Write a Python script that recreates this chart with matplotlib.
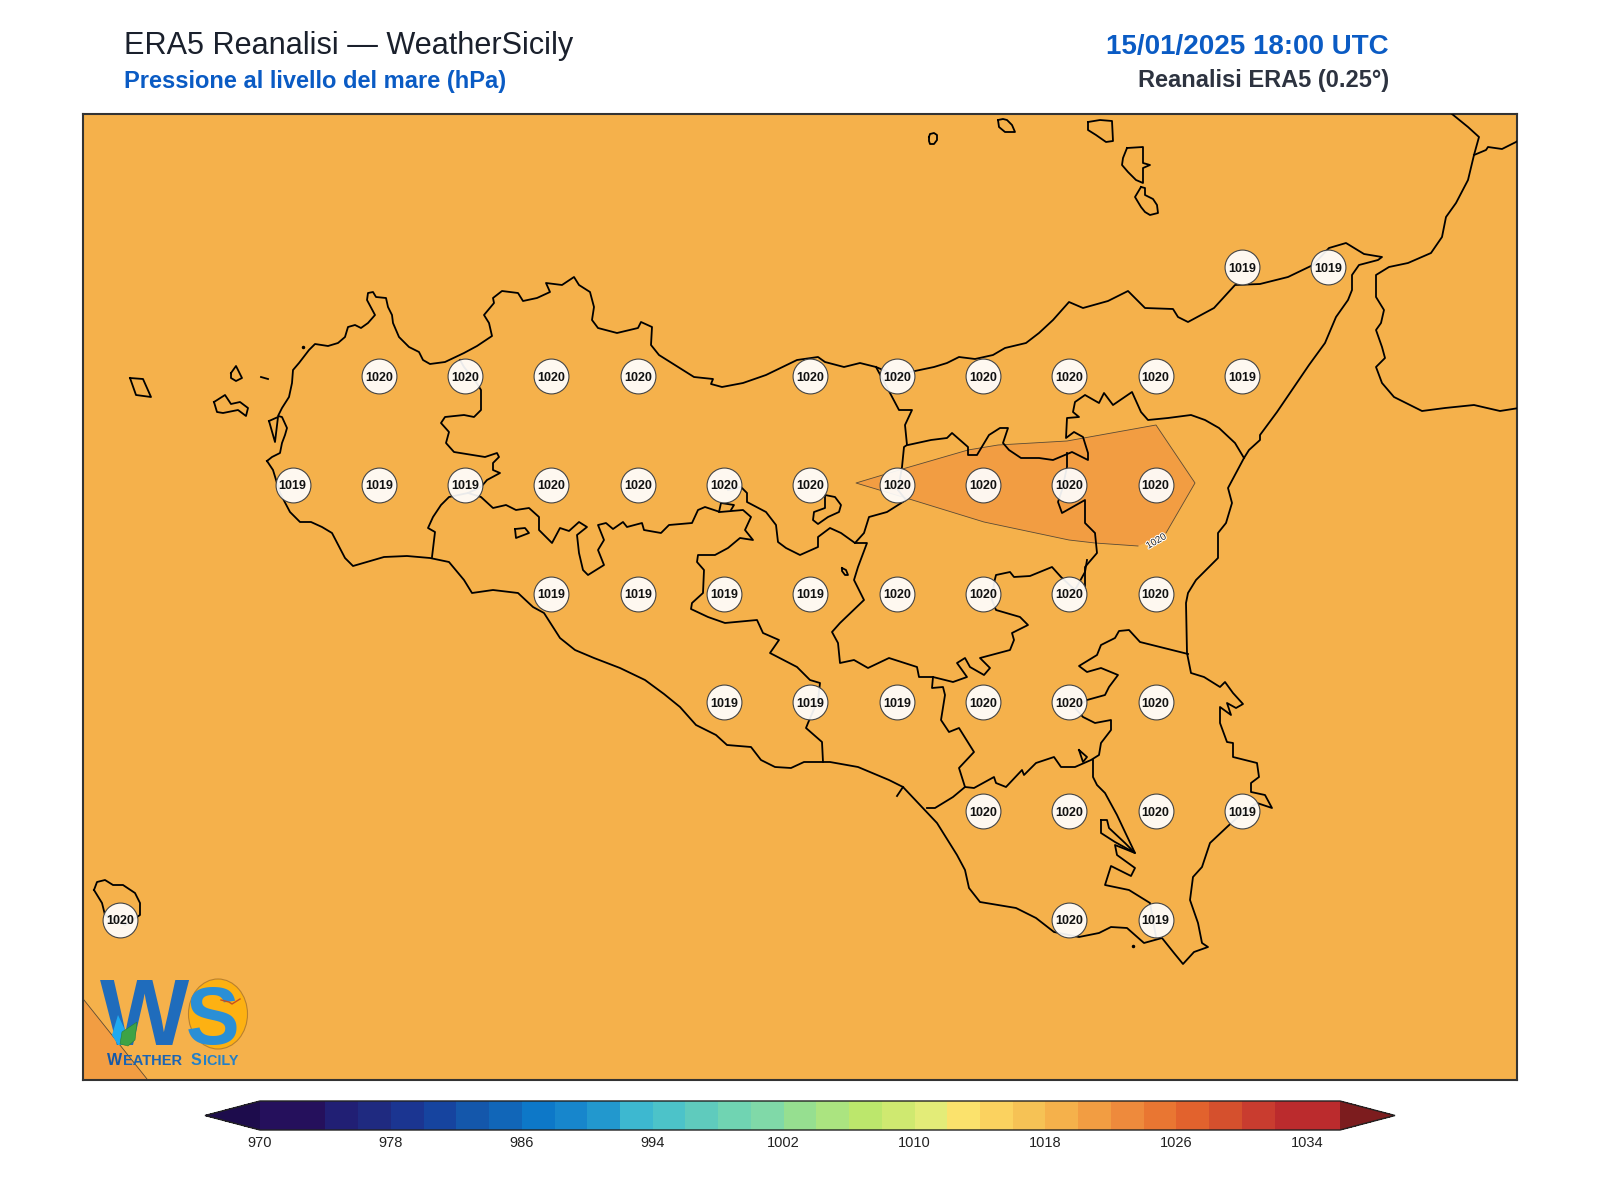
"""Mappa pressione ERA5 sulla Sicilia, WeatherSicily."""

import numpy as np
import matplotlib
matplotlib.use('Agg')
import matplotlib.pyplot as plt
from matplotlib.cm import ScalarMappable
from matplotlib.colors import BoundaryNorm, ListedColormap
from matplotlib.patches import Ellipse, Polygon
import matplotlib.patheffects as pe

plt.rcParams['font.family'] = ['Liberation Sans', 'DejaVu Sans']

LAT_38_25 = [15.25, 15.5]
VAL_38_25 = [1019, 1019]
LAT_38_00 = [12.75, 13.0, 13.25, 13.5, 14.0, 14.25, 14.5, 14.75, 15.0, 15.25]
VAL_38_00 = [1020, 1020, 1020, 1020, 1020, 1020, 1020, 1020, 1020, 1019]
LAT_37_75 = [12.5, 12.75, 13.0, 13.25, 13.5, 13.75, 14.0, 14.25, 14.5, 14.75, 15.0]
VAL_37_75 = [1019, 1019, 1019, 1020, 1020, 1020, 1020, 1020, 1020, 1020, 1020]
LAT_37_50 = [13.25, 13.5, 13.75, 14.0, 14.25, 14.5, 14.75, 15.0]
VAL_37_50 = [1019, 1019, 1019, 1019, 1020, 1020, 1020, 1020]
LAT_37_25 = [13.75, 14.0, 14.25, 14.5, 14.75, 15.0]
VAL_37_25 = [1019, 1019, 1019, 1020, 1020, 1020]
LAT_37_00 = [14.5, 14.75, 15.0, 15.25]
VAL_37_00 = [1020, 1020, 1020, 1019]
LAT_36_75 = [12.0, 14.75, 15.0]
VAL_36_75 = [1020, 1020, 1019]

ROWS = [(38.25, LAT_38_25, VAL_38_25), (38.0, LAT_38_00, VAL_38_00),
        (37.75, LAT_37_75, VAL_37_75), (37.5, LAT_37_50, VAL_37_50),
        (37.25, LAT_37_25, VAL_37_25), (37.0, LAT_37_00, VAL_37_00),
        (36.75, LAT_36_75, VAL_36_75)]

LEVELS = list(range(970, 1038, 2))
TICKS = list(range(970, 1036, 8))
BAR_COLORS = ['#25105c', '#25105c', '#211f74', '#1f2a80', '#1b3591', '#16449f',
              '#1457ab', '#1166b8', '#0d78c8', '#1786cc', '#2298ce', '#3db8d0',
              '#4cc3c9', '#5fcbbd', '#70d4b2', '#80d9a8', '#96df90', '#abe480',
              '#bce76c', '#cfe970', '#e3ec78', '#fbe26c', '#fbd25f', '#f6c255',
              '#f5b14b', '#f29d42', '#ee8a3c', '#e97632', '#e2622d', '#d5502d',
              '#c93c2f', '#bb2b2d', '#bb2b2d']

# tracciati ricalcati sulla mappa (pixel dell'immagine)
COAST = [(267, 461), (272, 457), (280, 453), (282, 443), (285, 435), (287, 428), (282, 417), (278, 416),
         (282, 408), (289, 397), (292, 383), (293, 370), (299, 363), (309, 350), (315, 344), (328, 346),
         (338, 343), (345, 337), (348, 327), (355, 325), (361, 328), (368, 323), (375, 315), (367, 300),
         (368, 293), (373, 292), (376, 297), (386, 298), (388, 307), (392, 315), (393, 323), (399, 337),
         (409, 347), (419, 352), (423, 360), (430, 364), (445, 362), (464, 353), (477, 346), (492, 336),
         (489, 323), (484, 315), (494, 303), (493, 298), (502, 291), (518, 293), (523, 301), (537, 298),
         (550, 292), (546, 283), (562, 285), (574, 277), (579, 285), (590, 292), (594, 307), (592, 320),
         (598, 328), (617, 333), (638, 328), (641, 322), (652, 327), (651, 345), (659, 355), (678, 367),
         (694, 377), (713, 379), (711, 384), (722, 387), (743, 383), (766, 375), (797, 360), (818, 357),
         (825, 362), (844, 367), (860, 363), (876, 367), (895, 375), (915, 371), (934, 367), (947, 363),
         (959, 357), (975, 359), (993, 355), (1005, 348), (1026, 343), (1039, 333), (1053, 320), (1069, 302),
         (1083, 308), (1108, 301), (1128, 291), (1145, 308), (1173, 309), (1178, 317), (1188, 322), (1214, 308),
         (1235, 285), (1260, 284), (1288, 277), (1313, 265), (1329, 248), (1346, 243), (1364, 254), (1382, 257),
         (1378, 260), (1359, 265), (1352, 275), (1352, 290), (1348, 300), (1336, 317), (1325, 343), (1309, 365),
         (1277, 412), (1260, 435), (1260, 440), (1249, 450), (1244, 458), (1228, 488), (1232, 503), (1226, 523),
         (1218, 533), (1218, 558), (1196, 580), (1188, 593), (1186, 603), (1187, 653), (1191, 673), (1204, 677),
         (1220, 687), (1225, 682), (1233, 693), (1243, 704), (1236, 708), (1227, 703), (1231, 715), (1220, 707),
         (1220, 723), (1227, 742), (1233, 743), (1233, 757), (1257, 763), (1259, 777), (1251, 783), (1251, 792),
         (1265, 795), (1272, 808), (1257, 803), (1240, 815), (1227, 827), (1210, 843), (1202, 867), (1193, 877),
         (1190, 900), (1198, 923), (1202, 943), (1208, 947), (1194, 952), (1183, 964), (1174, 953), (1162, 938),
         (1144, 943), (1127, 928), (1111, 927), (1099, 933), (1079, 937), (1054, 932), (1036, 918), (1016, 908),
         (980, 902), (969, 888), (965, 870), (957, 855), (937, 823), (903, 787), (889, 780), (858, 767),
         (830, 762), (804, 762), (791, 768), (775, 767), (761, 760), (751, 747), (727, 745), (716, 735),
         (696, 725), (680, 707), (664, 694), (645, 680), (620, 668), (594, 658), (575, 650), (560, 638),
         (544, 613), (533, 607), (518, 593), (493, 590), (472, 593), (464, 580), (449, 562), (430, 558),
         (407, 556), (384, 557), (353, 566), (345, 558), (332, 533), (322, 527), (311, 522), (300, 522),
         (290, 512), (280, 493), (273, 470), (267, 461)]
CALABRIA = [(1452, 114), (1468, 127), (1479, 137), (1474, 155), (1468, 180), (1456, 203), (1446, 217), (1442, 237),
            (1431, 253), (1408, 263), (1389, 267), (1376, 275), (1376, 297), (1384, 310), (1381, 323), (1376, 330),
            (1382, 347), (1385, 358), (1376, 367), (1382, 383), (1394, 397), (1422, 411), (1445, 408), (1474, 405),
            (1500, 411), (1519, 408)]
CALABRIA_NORD = [(1474, 155), (1486, 150), (1488, 147), (1502, 149), (1516, 142), (1519, 140)]
BORDER_TP_PA = [(460, 360), (464, 367), (476, 382), (481, 390), (481, 410), (474, 417), (464, 415), (445, 417),
                (441, 423), (449, 432), (446, 443), (454, 452), (485, 457), (497, 453), (499, 457), (493, 463),
                (493, 470), (500, 473), (487, 480), (481, 487), (468, 493), (449, 497), (441, 505), (433, 517),
                (428, 528), (435, 532), (432, 557)]
BORDER_PA_AG = [(468, 493), (481, 497), (493, 508), (506, 505), (516, 510), (529, 508), (539, 517), (539, 530),
                (552, 543), (560, 528), (569, 531), (579, 522), (587, 527), (577, 535), (579, 553), (583, 570),
                (588, 575), (604, 565), (598, 550), (604, 540), (598, 525), (606, 523), (613, 529), (623, 522),
                (627, 527), (642, 523), (644, 530), (661, 533), (669, 525), (692, 523), (698, 510), (705, 507),
                (720, 512), (743, 510), (751, 517), (745, 530), (753, 540), (740, 538), (728, 548), (715, 555),
                (698, 555), (697, 562), (704, 570), (703, 593), (692, 603), (691, 609), (708, 617), (725, 623),
                (757, 620), (763, 633), (779, 640), (770, 653), (797, 667), (810, 680), (820, 683), (818, 700),
                (808, 723), (806, 728), (822, 742), (823, 762)]
BORDER_PA_CL = [(728, 490), (741, 487), (747, 493), (747, 502), (766, 512), (776, 525), (778, 542), (786, 548),
                (800, 555), (818, 547), (818, 537), (830, 528), (841, 533), (855, 543), (864, 533), (869, 517),
                (887, 512), (906, 500), (898, 490)]
BORDER_ME_PA = [(876, 367), (890, 393), (899, 410), (912, 410), (905, 425), (907, 445), (904, 447), (902, 467),
                (898, 490)]
BORDER_CL_EN = [(855, 543), (867, 543), (858, 567), (854, 580), (864, 600), (840, 623), (832, 632), (838, 643),
                (840, 663), (854, 660), (868, 668), (889, 658), (917, 667), (919, 677), (933, 677), (953, 682),
                (967, 677), (957, 663), (965, 658), (970, 667), (984, 675), (990, 668), (980, 658), (1010, 650),
                (1014, 640), (1012, 633), (1028, 625), (1020, 617), (996, 610), (992, 600), (994, 583), (996, 575),
                (1010, 572), (1014, 577), (1030, 576), (1052, 567), (1061, 577), (1075, 590), (1085, 572), (1087, 560)]
BORDER_CL_RG = [(933, 677), (932, 688), (943, 687), (945, 695), (941, 720), (949, 732), (959, 728), (974, 752),
                (959, 768), (965, 787), (953, 797), (935, 808), (927, 808)]
BORDER_RG_CT = [(965, 787), (974, 788), (994, 777), (996, 783), (1006, 787), (1022, 770), (1024, 775), (1036, 763),
                (1054, 757), (1061, 767), (1075, 767), (1091, 760), (1099, 755), (1101, 743), (1111, 730), (1111, 720),
                (1095, 723), (1083, 717), (1075, 708), (1087, 700), (1105, 695), (1109, 687), (1118, 675), (1101, 668),
                (1087, 672), (1079, 666), (1097, 655), (1101, 645), (1115, 638), (1119, 631), (1129, 630), (1140, 642),
                (1164, 648), (1188, 654)]
BORDER_RG_SR = [(1093, 760), (1093, 777), (1097, 785), (1105, 793), (1117, 815), (1125, 832), (1135, 853), (1115, 845),
                (1117, 855), (1135, 868), (1131, 876), (1111, 866), (1105, 885), (1129, 890), (1150, 903), (1156, 937)]
BORDER_ME_CT = [(1244, 458), (1235, 443), (1219, 428), (1205, 420), (1191, 415), (1168, 418), (1148, 420), (1141, 412),
                (1132, 392), (1113, 405), (1104, 393), (1099, 403), (1085, 395), (1075, 402), (1073, 412), (1079, 417),
                (1067, 418), (1066, 438), (1074, 432), (1083, 437), (1088, 453), (1088, 460), (1072, 452), (1053, 460),
                (1039, 458), (1021, 458), (1009, 450), (1003, 443), (1008, 428), (1000, 428), (989, 435), (977, 455),
                (968, 455), (968, 447), (952, 433), (947, 438), (931, 440), (908, 445)]
BORDER_CT = [(1067, 453), (1067, 467), (1062, 490), (1058, 502), (1062, 513), (1085, 500), (1085, 523), (1095, 533),
             (1097, 553), (1085, 567), (1085, 590)]
BORDER_TICK = [(903, 787), (897, 796)]
DOTS = [(303, 347), (1133, 946)]

# isole e laghi, chiusi
ISLANDS = [
    [(929, 137), (930, 134), (934, 133), (937, 135), (937, 140), (934, 144), (930, 144), (929, 141), (929, 137)],
    [(998, 120), (1003, 119), (1007, 120), (1012, 125), (1015, 132), (1005, 132), (999, 127), (998, 120)],
    [(1088, 122), (1100, 120), (1112, 121), (1113, 141), (1106, 142), (1096, 135), (1088, 130), (1088, 122)],
    [(1127, 148), (1143, 147), (1143, 163), (1150, 165), (1143, 168), (1143, 183), (1136, 180), (1128, 172), (1122, 165), (1123, 158), (1125, 153), (1127, 148)],
    [(1141, 187), (1145, 188), (1145, 195), (1153, 199), (1157, 205), (1158, 213), (1150, 215), (1145, 212), (1141, 207), (1135, 197), (1141, 187)],
    [(231, 373), (236, 366), (238, 370), (242, 378), (236, 381), (231, 378), (231, 373)],
    [(214, 402), (225, 395), (231, 404), (240, 402), (248, 408), (246, 416), (238, 410), (223, 413), (217, 412), (214, 402)],
    [(130, 378), (143, 379), (151, 397), (136, 395), (130, 378)],
    [(261, 377), (268, 379)],
    [(269, 421), (278, 417), (275, 442), (269, 421)],
    [(94, 890), (97, 882), (105, 880), (113, 885), (123, 885), (135, 893), (140, 903), (140, 915), (125, 925), (105, 915), (102, 903), (94, 890)],
    [(515, 529), (525, 528), (529, 533), (516, 538), (515, 529)],
    [(842, 568), (846, 570), (848, 575), (845, 575), (842, 571), (842, 568)],
    [(719, 512), (721, 503), (734, 505), (731, 510)],
    [(825, 495), (835, 497), (841, 505), (839, 512), (828, 517), (818, 524), (813, 520), (814, 512), (825, 508), (825, 495)],
    [(1101, 820), (1107, 820), (1109, 828), (1125, 843), (1135, 853), (1115, 842), (1101, 833), (1101, 820)],
    [(1079, 750), (1087, 757), (1083, 762), (1079, 750)],
]

# isobara 1020 (area chiusa e angolo in basso a sinistra)
ISOBAR_1020 = [(1166, 533), (1195, 483), (1156, 425), (1067, 441), (998, 445), (968, 450), (906, 468), (856, 483),
               (906, 498), (984, 522), (1069, 540), (1095, 543), (1138, 546)]
ISOBAR_CORNER = [(84, 1000), (147, 1079)]

AX_BOX = (83, 114, 1517, 1080)   # sinistra, alto, destra, basso in pixel
PX_LON, PX_LAT = 345.2, 435.0    # pixel per grado
REF_X, REF_Y = 120, 920          # 12.0E, 36.75N


def to_lonlat(points):
    arr = np.array(points, dtype=float)
    return 12.0 + (arr[:, 0] - REF_X) / PX_LON, 36.75 + (REF_Y - arr[:, 1]) / PX_LAT


def draw_logo(ax):
    ax.add_patch(Ellipse((218, 1014), 59, 70, fc='#fdb112', ec='#b9802e', lw=0.8, zorder=6))
    ax.text(145, 1045, 'W', fontsize=68, fontweight='bold', color='#1f6cbc', ha='center', va='baseline', zorder=7)
    ax.text(213, 1044, 'S', fontsize=58, fontweight='bold', color='#2a8fd6', ha='center', va='baseline', zorder=7)
    ax.add_patch(Polygon([(118, 1015), (125, 1030), (127, 1045), (118, 1045), (112, 1035)], fc='#1eaaf0', ec='none', zorder=8))
    ax.add_patch(Polygon([(137, 1022), (135, 1040), (128, 1046), (120, 1044), (122, 1032)], fc='#3da345', ec='#2b7d33', lw=0.4, zorder=9))
    ax.plot([221, 229, 232, 240], [1000, 1002, 1004, 999], color='#c8501e', lw=1, zorder=8)
    for x, txt, size, col in [(107, 'W', 11.5, '#1558a8'), (123, 'EATHER', 10.5, '#1a64b4'),
                              (191, 'S', 11.5, '#2380c8'), (202.5, 'ICILY', 10.4, '#2380c8')]:
        ax.text(x, 1065, txt, fontsize=size, fontweight='bold', color=col, ha='left', va='baseline', zorder=7)


def main():
    fig = plt.figure(figsize=(16, 12), dpi=100, facecolor='white')
    left, top, right, bottom = AX_BOX
    ax = fig.add_axes([left / 1600, 1 - bottom / 1200, (right - left) / 1600, (bottom - top) / 1200])
    xlim, ylim = to_lonlat([(left, bottom), (right, top)])
    ax.set_xlim(*xlim)
    ax.set_ylim(*ylim)
    ax.set_facecolor('#f5b14b')
    ax.set_xticks([])
    ax.set_yticks([])
    for spine in ax.spines.values():
        spine.set_linewidth(1.5)
        spine.set_edgecolor('#333333')

    # area sopra 1020 hPa
    iso_x, iso_y = to_lonlat(ISOBAR_1020)
    ax.fill(iso_x, iso_y, color='#f29d42', lw=0, zorder=1)
    ax.plot(iso_x, iso_y, color='#5a4a35', lw=0.6, zorder=2)
    cx, cy = to_lonlat(ISOBAR_CORNER + [(83, 1080)])
    ax.fill(cx, cy, color='#f29d42', lw=0, zorder=1)
    ax.plot(cx[:2], cy[:2], color='#5a4a35', lw=0.6, zorder=2)
    lab_x, lab_y = to_lonlat([(1156, 541)])
    ax.text(lab_x[0], lab_y[0], '1020', fontsize=7, rotation=30, ha='center', va='center', color='#222222', zorder=3,
            path_effects=[pe.withStroke(linewidth=1.5, foreground='white')])

    for line in [COAST, CALABRIA, CALABRIA_NORD, BORDER_TP_PA, BORDER_PA_AG, BORDER_PA_CL, BORDER_ME_PA, BORDER_CL_EN,
                 BORDER_CL_RG, BORDER_RG_CT, BORDER_RG_SR, BORDER_ME_CT, BORDER_CT, BORDER_TICK] + ISLANDS:
        lx, ly = to_lonlat(line)
        ax.plot(lx, ly, color='black', lw=1.3, solid_joinstyle='round', zorder=3)
    dx, dy = to_lonlat(DOTS)
    ax.plot(dx, dy, ls='none', marker='o', ms=1.5, color='black', zorder=3)

    # etichette dei valori di griglia
    for lat, lons, vals in ROWS:
        ax.scatter(lons, [lat] * len(lons), s=630, facecolor=(1, 1, 1, 0.92), edgecolor='#444444', linewidth=0.8, zorder=4)
        for lon, val in zip(lons, vals):
            ax.text(lon, lat, str(val), fontsize=9, fontweight='bold', color='#111111',
                    ha='center', va='center_baseline', zorder=5)

    # logo e titoli su un livello in pixel
    over = fig.add_axes([0, 0, 1, 1], facecolor='none')
    over.set_xlim(0, 1600)
    over.set_ylim(1200, 0)
    over.axis('off')
    draw_logo(over)

    over.text(124, 54, 'ERA5 Reanalisi — WeatherSicily', fontsize=22.1, color='#1a202c', va='baseline')
    over.text(124, 88, 'Pressione al livello del mare (hPa)', fontsize=17.05, fontweight='bold', color='#0a5bc4', va='baseline')
    over.text(1389, 54, '15/01/2025 18:00 UTC', fontsize=20, fontweight='bold', color='#0a5bc4', ha='right', va='baseline')
    over.text(1389, 87, 'Reanalisi ERA5 (0.25°)', fontsize=17, fontweight='bold', color='#2d3340', ha='right', va='baseline')

    cmap = ListedColormap(BAR_COLORS)
    cmap.set_under('#1d0c4c')
    cmap.set_over('#7c1c1e')
    norm = BoundaryNorm(LEVELS, ncolors=len(BAR_COLORS))
    cax = fig.add_axes([205 / 1600, 1 - 1130 / 1200, 1190 / 1600, 29 / 1200])
    cb = fig.colorbar(ScalarMappable(norm=norm, cmap=cmap), cax=cax, orientation='horizontal',
                      extend='both', extendfrac=0.0509, ticks=TICKS, spacing='proportional')
    cb.ax.minorticks_off()
    cb.ax.tick_params(length=0, pad=4, labelsize=10.5, labelcolor='#222222')
    cb.outline.set_edgecolor('#222222')
    cb.outline.set_linewidth(1.0)

    fig.savefig('out.png', dpi=100)


if __name__ == '__main__':
    main()
